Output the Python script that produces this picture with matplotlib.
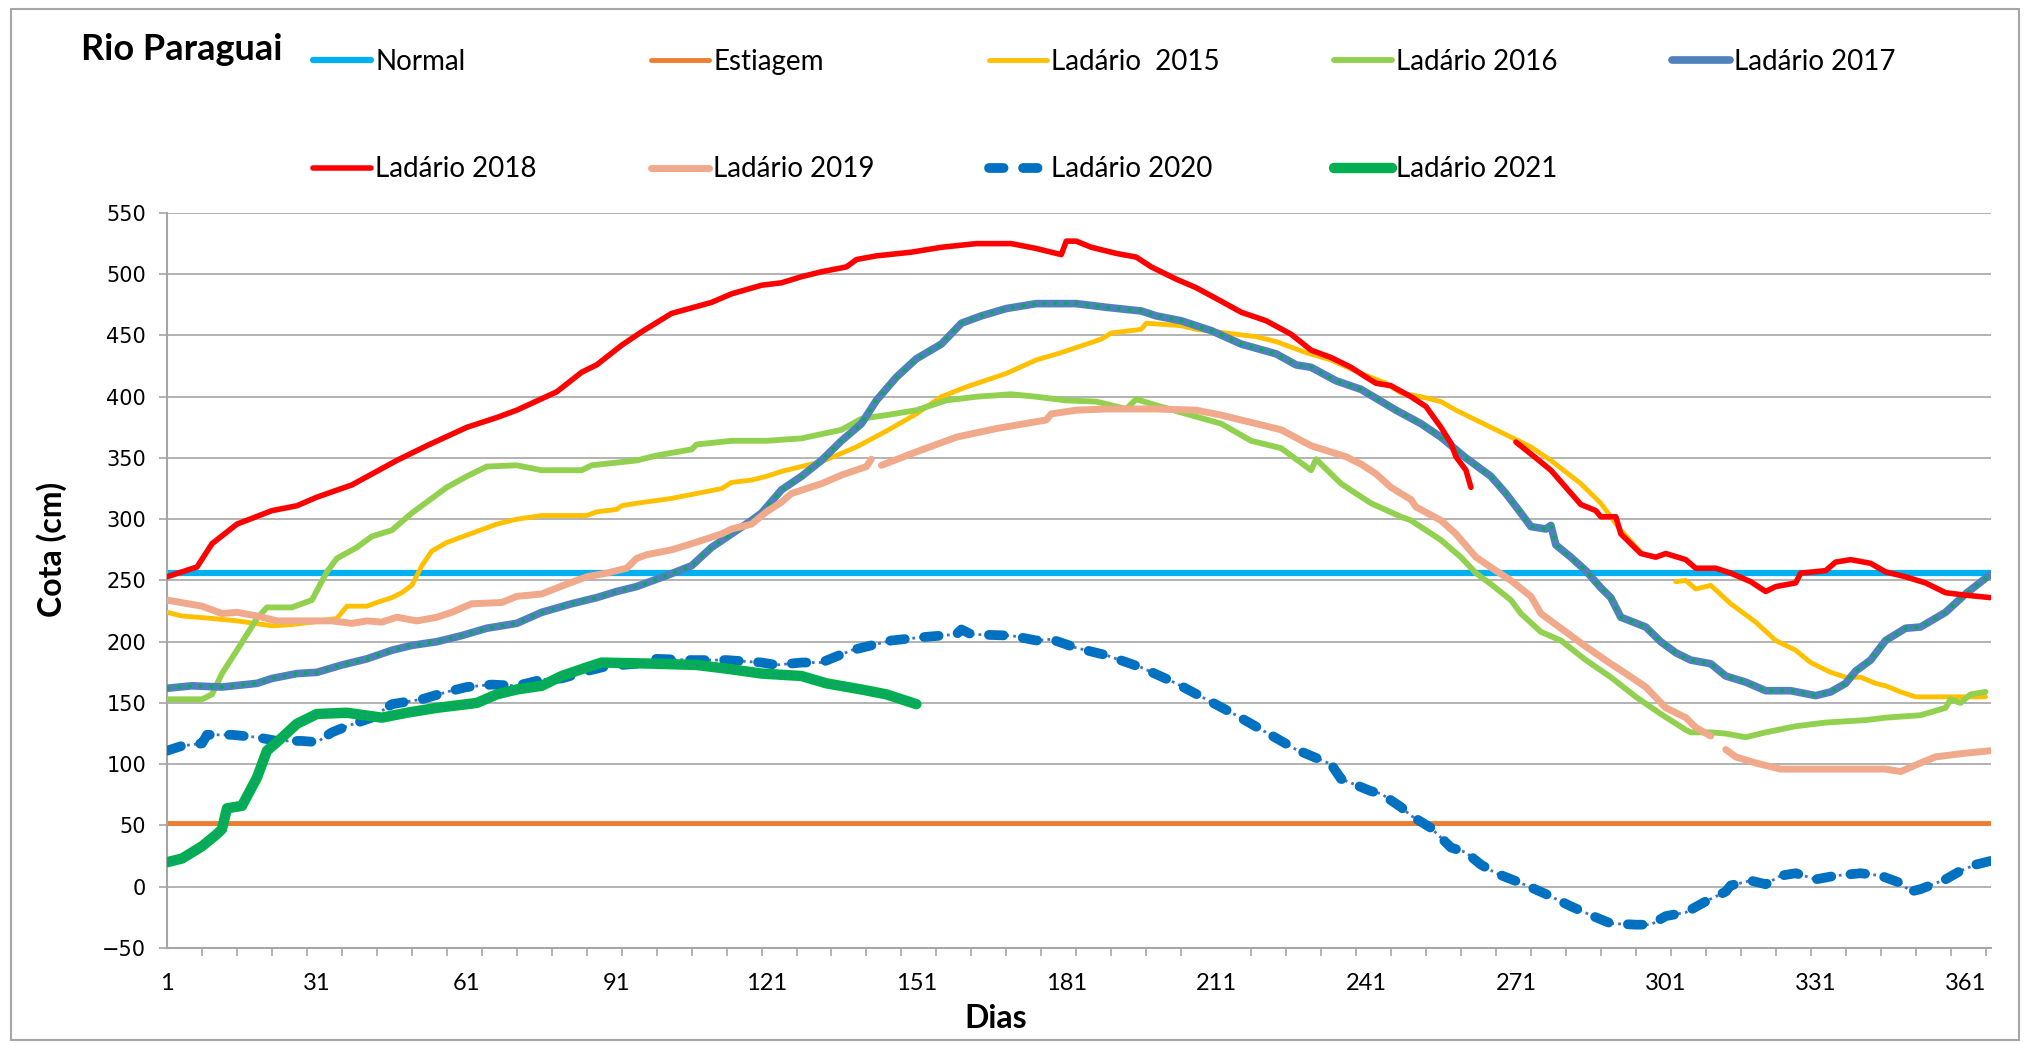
import numpy as np
import matplotlib.pyplot as plt
from matplotlib.patches import Rectangle

# Rio Paraguai - cota diaria em Ladario (cm)

dias = np.arange(1, 367)       # eixo categorico 1..366
cota_normal = 256
cota_estiagem = 52

# Ladario 2015 (nan = falha na serie)
d2015 = [1, 4, 10, 15, 22, 26, 30, 35, 37, 41, 43, 46, 48, 50, 52, 54, 57, 63, 67, 71,
         76, 85, 87, 91, 92, 95, 102, 107, 112, 114, 118, 121, 124, 128, 132, 139, 145, 151, 156, 161,
         169, 175, 180, 188, 190, 196, 197, 204, 207, 215, 219, 223, 229, 234, 240, 245, 248, 252, 256, 259,
         263, 268, 274, 278, 284, 288, 292, 296, 299, 303, 305, 307, 310, 314, 319, 323, 327, 330, 334, 337,
         340, 343, 345, 348, 351, 365]
c2015 = [224, 221, 219, 217, 213, 214, 216, 219, 229, 229, 232, 236, 240, 246, 262, 274, 281, 290, 296, 300,
         303, 303, 306, 308, 311, 313, 317, 321, 325, 330, 332, 335, 339, 343, 347, 359, 372, 386, 400, 408,
         419, 430, 436, 447, 452, 455, 460, 458, 455, 451, 449, 445, 436, 430, 419, 411, 403, 400, 396, 389,
         381, 371, 359, 348, 329, 313, 291, 273, np.nan, 249, 250, 243, 246, 231, 216, 201, 193, 183, 175, 171,
         171, 166, 164, 159, 155, 155]

# Ladario 2016
d2016 = [1, 8, 10, 12, 15, 19, 21, 26, 30, 33, 35, 39, 42, 46, 50, 54, 57, 61, 65, 71,
         76, 84, 86, 95, 99, 106, 107, 114, 121, 128, 136, 140, 145, 151, 157, 163, 170, 175, 181, 187,
         193, 195, 199, 205, 212, 218, 224, 230, 231, 236, 242, 248, 250, 256, 260, 263, 266, 270, 272, 276,
         280, 285, 290, 295, 300, 305, 306, 310, 313, 317, 321, 327, 333, 341, 345, 352, 357, 358, 360, 362,
         365]
c2016 = [153, 153, 157, 174, 193, 219, 228, 228, 234, 257, 268, 277, 286, 291, 305, 317, 326, 335, 343, 344,
         340, 340, 344, 348, 352, 357, 361, 364, 364, 366, 373, 382, 385, 389, 397, 400, 402, 400, 397, 396,
         390, 398, 393, 386, 378, 364, 358, 340, 349, 329, 313, 302, 299, 283, 269, 256, 247, 234, 223, 208,
         201, 185, 171, 155, 141, 128, 126, 126, 125, 122, 126, 131, 134, 136, 138, 140, 146, 153, 150, 157,
         159]

# Ladario 2017
d2017 = [1, 6, 12, 19, 22, 27, 31, 36, 41, 46, 50, 55, 60, 65, 71, 76, 82, 87, 91, 95,
         101, 106, 110, 114, 118, 120, 124, 128, 132, 136, 140, 143, 147, 151, 156, 160, 164, 169, 175, 183,
         189, 196, 199, 204, 210, 216, 223, 227, 230, 235, 240, 247, 252, 256, 261, 266, 269, 272, 274, 277,
         278, 279, 282, 285, 288, 290, 292, 297, 300, 303, 306, 310, 313, 317, 321, 326, 331, 334, 337, 339,
         342, 345, 349, 352, 357, 361, 366]
c2017 = [162, 164, 163, 166, 170, 174, 175, 181, 186, 193, 197, 200, 205, 211, 215, 224, 231, 236, 241, 245,
         254, 262, 277, 288, 299, 305, 324, 335, 348, 364, 378, 397, 416, 431, 443, 460, 466, 472, 476, 476,
         473, 470, 466, 462, 454, 443, 435, 426, 424, 413, 406, 389, 378, 367, 350, 335, 321, 305, 294, 292,
         295, 279, 269, 258, 244, 236, 220, 212, 200, 191, 185, 182, 172, 167, 160, 160, 156, 159, 166, 176,
         185, 201, 211, 212, 224, 239, 255]

# Ladario 2018
d2018 = [1, 7, 10, 15, 22, 27, 31, 38, 47, 53, 61, 67, 71, 79, 84, 87, 92, 96, 102, 110,
         114, 120, 124, 128, 132, 137, 139, 143, 150, 156, 163, 170, 175, 180, 181, 183, 186, 191, 195, 198,
         203, 207, 212, 216, 221, 226, 230, 234, 238, 241, 243, 246, 250, 253, 256, 258, 259, 261, 262, 266,
         271, 275, 278, 281, 284, 287, 288, 291, 292, 296, 299, 301, 305, 307, 311, 314, 318, 321, 323, 327,
         328, 333, 335, 338, 342, 345, 349, 353, 357, 361, 366]
c2018 = [253, 261, 280, 296, 307, 311, 318, 328, 348, 360, 375, 383, 389, 404, 420, 426, 442, 453, 468, 477,
         484, 491, 493, 498, 502, 506, 512, 515, 518, 522, 525, 525, 521, 516, 527, 527, 522, 517, 514, 506,
         496, 489, 478, 469, 462, 451, 438, 432, 424, 416, 411, 409, 400, 392, 375, 362, 351, 340, 326, np.nan,
         363, 350, 340, 326, 312, 307, 302, 302, 288, 272, 269, 272, 267, 260, 260, 256, 249, 241, 245, 248,
         256, 258, 265, 267, 264, 257, 253, 248, 240, 238, 236]

# Ladario 2019
d2019 = [1, 8, 12, 15, 19, 23, 28, 34, 38, 41, 44, 47, 51, 55, 58, 62, 68, 71, 76, 81,
         85, 89, 93, 95, 97, 102, 106, 112, 114, 118, 121, 124, 126, 132, 136, 141, 142, 143, 144, 151,
         159, 167, 177, 178, 183, 189, 199, 207, 212, 218, 224, 230, 237, 240, 243, 246, 250, 251, 256, 259,
         263, 267, 270, 274, 276, 280, 285, 290, 293, 297, 301, 305, 307, 310, 311, 313, 315, 319, 324, 345,
         348, 352, 355, 361, 366]
c2019 = [234, 229, 223, 224, 221, 217, 217, 217, 215, 217, 216, 220, 217, 220, 224, 231, 232, 237, 239, 247,
         253, 256, 260, 268, 271, 275, 280, 288, 292, 296, 306, 314, 321, 329, 336, 343, 349, np.nan, 344, 355,
         367, 374, 381, 386, 389, 390, 390, 389, 385, 379, 373, 360, 351, 345, 337, 326, 316, 310, 299, 288,
         269, 258, 250, 237, 223, 211, 196, 182, 174, 163, 146, 138, 130, 123, np.nan, 112, 106, 101, 96, 96,
         94, 101, 106, 109, 111]

# Ladario 2020
d2020 = [1, 4, 8, 9, 14, 19, 23, 28, 31, 34, 37, 42, 46, 52, 57, 61, 66, 71, 76, 80,
         85, 89, 95, 99, 106, 113, 120, 123, 128, 132, 138, 146, 153, 159, 160, 162, 170, 175, 178, 183,
         189, 196, 203, 209, 215, 221, 227, 234, 236, 242, 244, 248, 250, 254, 258, 261, 264, 267, 272, 277,
         282, 287, 290, 295, 298, 301, 305, 309, 313, 314, 318, 321, 324, 327, 331, 335, 340, 344, 348, 350,
         352, 357, 360, 363, 366]
c2020 = [111, 115, 117, 124, 124, 122, 119, 119, 118, 126, 131, 138, 149, 153, 159, 163, 165, 164, 169, 170,
         176, 180, 182, 186, 185, 185, 183, 181, 183, 183, 193, 201, 204, 206, 210, 206, 205, 201, 202, 195,
         189, 179, 166, 153, 140, 126, 112, 100, 88, 78, 76, 65, 58, 48, 32, 28, 18, 11, 3, -6,
         -16, -25, -30, -31, -31, -24, -21, -12, -4, 1, 5, 2, 9, 11, 6, 9, 11, 9, 3, -4,
         -2, 6, 13, 18, 21]

# Ladario 2021 (ate o dia 151)
d2021 = [1, 4, 8, 11, 12, 13, 16, 19, 21, 23, 27, 31, 37, 44, 49, 55, 63, 67, 71, 76,
         80, 85, 88, 99, 107, 113, 120, 128, 133, 140, 145, 151]
c2021 = [20, 23, 33, 43, 47, 64, 66, 89, 111, 118, 133, 141, 142, 138, 142, 146, 150, 157, 161, 164,
         172, 179, 183, 182, 181, 178, 174, 172, 166, 161, 157, 149]

fonte = 'Lato'

fig = plt.figure(figsize=(20.27, 10.44), dpi=100)
ax = fig.add_axes([0.0824, 0.092, 0.8996, 0.704])

h_normal, = ax.plot(dias, np.full(len(dias), cota_normal), color='#00B0F0', lw=4.5,
                    solid_capstyle='round', zorder=2)
h_estiagem, = ax.plot(dias, np.full(len(dias), cota_estiagem), color='#ED7D31', lw=3.5,
                      solid_capstyle='round', zorder=2)
h15, = ax.plot(d2015, c2015, color='#FFC000', lw=3.5, solid_capstyle='round', zorder=3)
h16, = ax.plot(d2016, c2016, color='#92D050', lw=4.2, solid_capstyle='round', zorder=4)
h17, = ax.plot(d2017, c2017, color='#4F81BD', lw=5.5, solid_capstyle='round', zorder=5)
ax.plot(d2017, c2017, color='#00B050', lw=2.4, linestyle=(0, (1, 2.2)), zorder=5.1)
h18, = ax.plot(d2018, c2018, color='#FF0000', lw=4, solid_capstyle='round', zorder=6)
h19, = ax.plot(d2019, c2019, color='#F1A98B', lw=5, solid_capstyle='round', zorder=7)
ax.plot(d2020, c2020, color='#4472C4', lw=2, linestyle=(0, (1, 1.5)), zorder=8)
h20, = ax.plot(d2020, c2020, color='#0070C0', lw=7, linestyle=(0, (1.5, 2.0)),
               dash_capstyle='round', zorder=8.1)
h21, = ax.plot(d2021, c2021, color='#00B050', lw=7.5, solid_capstyle='round', zorder=9)
ax.plot(d2021, c2021, color='#4472C4', lw=1.3, linestyle=(0, (1, 2.5)), zorder=9.1)

ax.set_xlim(1, 366)
ax.set_ylim(-50, 550)
ax.set_yticks(np.arange(-50, 551, 50))
ax.set_xticks(np.arange(1, 362, 30))
ax.set_xticks(np.arange(1, 366, 7), minor=True)
ax.grid(axis='y', color='#A6A6A6', lw=1.2)
ax.set_axisbelow(True)
for s in ['top', 'right']:
    ax.spines[s].set_visible(False)
for s in ['left', 'bottom']:
    ax.spines[s].set_color('#A6A6A6')
    ax.spines[s].set_linewidth(1.5)
ax.tick_params(axis='y', length=6, width=1.2, color='#A6A6A6', pad=9, labelsize=15)
ax.tick_params(axis='x', which='major', length=0, pad=18, labelsize=17)
ax.tick_params(axis='x', which='minor', length=6, width=1.2, color='#A6A6A6')
for t in ax.get_xticklabels():
    t.set_fontfamily(fonte)
for t in ax.get_yticklabels():
    t.set_fontfamily('DejaVu Sans')

fig.text(0.040, 0.953, 'Rio Paraguai', fontsize=26, fontweight='bold', family=fonte,
         ha='left', va='center')
fig.text(0.491, 0.024, 'Dias', fontsize=23, fontweight='bold', family=fonte,
         ha='center', va='center')
fig.text(0.0256, 0.474, 'Cota (cm)', fontsize=23, fontweight='bold', family=fonte,
         ha='center', va='center', rotation=90)

# legenda em duas linhas (ordem por colunas)
handles = [h_normal, h18, h_estiagem, h19, h15, h20, h16, h21, h17]
labels = ['Normal', 'Ladário 2018', 'Estiagem', 'Ladário 2019', 'Ladário  2015',
          'Ladário 2020', 'Ladário 2016', 'Ladário 2021', 'Ladário 2017']
fig.legend(handles, labels, ncol=5, loc='upper left', bbox_to_anchor=(0.1544, 0.953),
           frameon=False, borderpad=0, borderaxespad=0, handlelength=2.1,
           handletextpad=0.15, columnspacing=4.1, labelspacing=2.93,
           prop={'family': fonte, 'size': 20})

fig.patches.append(Rectangle((0.0055, 0.004), 0.9905, 0.9875, transform=fig.transFigure,
                             fill=False, edgecolor='#A6A6A6', lw=1.5))

fig.savefig('out.png', dpi=100)
